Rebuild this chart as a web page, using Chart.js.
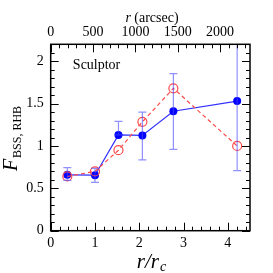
<!DOCTYPE html>
<html>
<head>
<meta charset="utf-8">
<script src="https://cdn.jsdelivr.net/npm/chart.js@4"></script>
<style>
  html, body { margin: 0; padding: 0; background: #fff; }
  #wrap { width: 273px; height: 273px; }
</style>
</head>
<body>
<div id="wrap"><canvas id="c" width="273" height="273"></canvas></div>
<script>
// r / r_c of each radial bin
const radius = [0.375, 1.0, 1.53, 2.07, 2.77, 4.21];
// blue filled: F_BSS,RHB with errors
const bssRhb = [0.66, 0.655, 1.13, 1.125, 1.41, 1.53];
const bssRhbLo = [0.595, 0.57, 1.13, 0.835, 0.96, 0.71];
const bssRhbHi = [0.745, 0.735, 1.29, 1.40, 1.855, 2.6];
// red open circles (dashed)
const other = [0.64, 0.70, 0.95, 1.285, 1.68, 1.00];

const xTicks = [0, 1, 2, 3, 4];
const yTicks = [0, 0.5, 1, 1.5, 2];
const topTicks = [0, 500, 1000, 1500, 2000];
const rcArcsec = 523;

const serif = '"Liberation Serif", "DejaVu Serif", serif';
const plain = v => String(v);

const decor = {
  id: 'decor',
  afterDatasetsDraw(chart) {
    const ctx = chart.ctx;
    const a = chart.chartArea;
    const x = chart.scales.x, y = chart.scales.y, xt = chart.scales.xt;
    ctx.save();
    // error bars
    ctx.beginPath();
    ctx.rect(a.left, a.top, a.right - a.left, a.bottom - a.top);
    ctx.clip();
    ctx.strokeStyle = 'rgba(70,70,255,0.6)';
    ctx.lineWidth = 1.2;
    for (let i = 0; i < radius.length; i++) {
      const px = x.getPixelForValue(radius[i]);
      const lo = y.getPixelForValue(bssRhbLo[i]);
      const hi = y.getPixelForValue(bssRhbHi[i]);
      ctx.beginPath();
      ctx.moveTo(px, lo); ctx.lineTo(px, hi);
      ctx.moveTo(px - 4, lo); ctx.lineTo(px + 4, lo);
      ctx.moveTo(px - 4, hi); ctx.lineTo(px + 4, hi);
      ctx.stroke();
    }
    ctx.restore();

    ctx.save();
    ctx.strokeStyle = '#000';
    ctx.lineWidth = 1;
    // bottom ticks
    for (let v = 0; v <= 4.5001; v += 0.2) {
      const px = Math.round(x.getPixelForValue(v)) + 0.5;
      const major = Math.abs(v - Math.round(v)) < 1e-6;
      const len = major ? 8 : 4;
      ctx.beginPath();
      ctx.moveTo(px, a.bottom); ctx.lineTo(px, a.bottom - len);
      ctx.stroke();
    }
    // top ticks (arcsec)
    for (let v = 0; v <= xt.max; v += 100) {
      const px = Math.round(xt.getPixelForValue(v)) + 0.5;
      const len = (v % 500 === 0) ? 8 : 4;
      ctx.beginPath();
      ctx.moveTo(px, a.top); ctx.lineTo(px, a.top + len);
      ctx.stroke();
    }
    // left & right ticks
    for (let v = 0; v <= 2.2001; v += 0.1) {
      const py = Math.round(y.getPixelForValue(v)) + 0.5;
      const major = Math.abs(v * 2 - Math.round(v * 2)) < 1e-6;
      const len = major ? 8 : 4;
      ctx.beginPath();
      ctx.moveTo(a.left, py); ctx.lineTo(a.left + len, py);
      ctx.moveTo(a.right, py); ctx.lineTo(a.right - len, py);
      ctx.stroke();
    }
    ctx.lineWidth = 1.5;
    ctx.strokeRect(a.left, a.top, a.right - a.left, a.bottom - a.top);

    // texts
    ctx.fillStyle = '#000';
    ctx.textBaseline = 'middle';
    ctx.font = '14px ' + serif;
    ctx.textAlign = 'left';
    ctx.fillText('Sculptor', x.getPixelForValue(0.5), y.getPixelForValue(1.95));

    // top title
    const t1 = 'r', t2 = ' (arcsec)';
    ctx.font = 'italic 14px ' + serif;
    const w1 = ctx.measureText(t1).width;
    ctx.font = '14px ' + serif;
    const w2 = ctx.measureText(t2).width;
    const sx = 152 - (w1 + w2) / 2;
    ctx.font = 'italic 14px ' + serif;
    ctx.fillText(t1, sx, 18);
    ctx.font = '14px ' + serif;
    ctx.fillText(t2, sx + w1, 18);

    // bottom title r/r_c
    ctx.font = 'italic 21px ' + serif;
    const b1 = 'r/r';
    const bw = ctx.measureText(b1).width;
    ctx.font = 'italic 14px ' + serif;
    const cw = ctx.measureText('c').width;
    const bx = 151 - (bw + cw) / 2;
    ctx.font = 'italic 21px ' + serif;
    ctx.fillText(b1, bx, 262);
    ctx.font = 'italic 14px ' + serif;
    ctx.fillText('c', bx + bw + 1, 267);

    // y title
    ctx.translate(13, 137);
    ctx.rotate(-Math.PI / 2);
    ctx.font = 'italic 20px ' + serif;
    const fw = ctx.measureText('F').width;
    ctx.font = '12px ' + serif;
    const sw = ctx.measureText('BSS, RHB').width;
    const yx = -(fw + sw) / 2 - 2;
    ctx.font = 'italic 20px ' + serif;
    ctx.fillText('F', yx, -1);
    ctx.font = '12px ' + serif;
    ctx.fillText('BSS, RHB', yx + fw + 1, 5);
    ctx.restore();
  }
};

new Chart(document.getElementById('c'), {
  type: 'line',
  data: {
    datasets: [
      {
        label: 'red',
        data: radius.map((r, i) => ({ x: r, y: other[i] })),
        borderColor: '#ff4a4a',
        borderWidth: 1.2,
        borderDash: [4, 3],
        pointStyle: 'circle',
        pointRadius: 4.5,
        pointBorderWidth: 1.2,
        pointBorderColor: '#ff4a4a',
        pointBackgroundColor: 'rgba(0,0,0,0)',
        fill: false,
        tension: 0
      },
      {
        label: 'blue',
        data: radius.map((r, i) => ({ x: r, y: bssRhb[i] })),
        borderColor: '#2f2fff',
        borderWidth: 1.2,
        pointRadius: 4,
        pointBorderWidth: 0,
        pointBackgroundColor: '#0000ff',
        fill: false,
        tension: 0
      }
    ]
  },
  options: {
    responsive: false,
    animation: false,
    layout: { padding: { left: 0, right: 23, top: 0, bottom: 0 } },
    plugins: { legend: { display: false }, tooltip: { enabled: false } },
    scales: {
      x: {
        type: 'linear', position: 'bottom', min: 0, max: 4.5,
        afterBuildTicks: s => { s.ticks = xTicks.map(v => ({ value: v })); },
        afterFit: s => { s.height = 42.3; },
        grid: { display: false, drawTicks: false },
        border: { display: false },
        ticks: { color: '#000', font: { family: serif, size: 14 }, padding: 4, maxRotation: 0, callback: plain }
      },
      xt: {
        type: 'linear', position: 'top', min: 0, max: 4.5 * rcArcsec,
        afterBuildTicks: s => { s.ticks = topTicks.map(v => ({ value: v })); },
        afterFit: s => { s.height = 44.3; },
        grid: { display: false, drawTicks: false },
        border: { display: false },
        ticks: { color: '#000', font: { family: serif, size: 14 }, padding: 4, maxRotation: 0, callback: plain }
      },
      y: {
        type: 'linear', position: 'left', min: 0, max: 2.2,
        afterBuildTicks: s => { s.ticks = yTicks.map(v => ({ value: v })); },
        afterFit: s => { s.width = 50.7; },
        grid: { display: false, drawTicks: false },
        border: { display: false },
        ticks: { color: '#000', font: { family: serif, size: 14 }, padding: 7, callback: plain }
      }
    }
  },
  plugins: [decor]
});
</script>
</body>
</html>
